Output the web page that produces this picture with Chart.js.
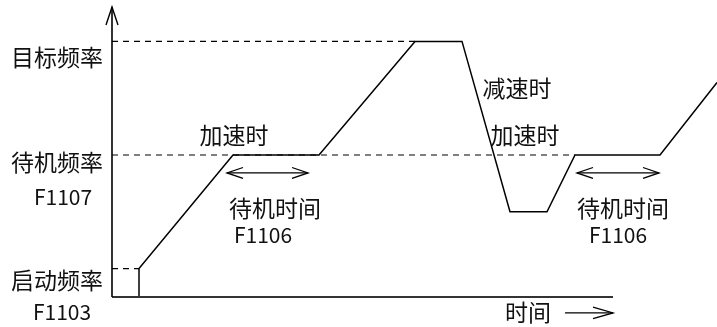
<!DOCTYPE html>
<html>
<head>
<meta charset="utf-8">
<script src="https://cdn.jsdelivr.net/npm/chart.js@4/dist/chart.umd.min.js"></script>
<style>
  html, body { margin: 0; padding: 0; background: #fff; }
  #c { display: block; }
</style>
</head>
<body>
<canvas id="c" width="717" height="327"></canvas>
<script>
// ---- data ----
const curveTimes = [2.7, 2.7, 12.1, 20.7, 30.3, 35.0, 39.8, 43.5, 46.3, 54.8, 60.5];
const curveFreqs = [0,   1,   5,    5,    9,    9,    3,    3,    5,    5,    7.55];
const levelNames  = ['目标频率', '待机频率', '启动频率'];
const levelCodes  = ['', 'F1107', 'F1103'];
const levelValues = [9, 5, 1];
const levelDashEnds = [30.3, 46.3, 2.7];
const standbyStarts = [11.5, 46.5];
const standbyEnds   = [19.6, 54.7];
const standbyName = '待机时间';
const standbyCode = 'F1106';
const phaseNames = ['加速时', '减速时', '加速时'];
const timeName = '时间';
const axisTimeEnd = 50.1;
const axisFreqEnd = 10.21;

// ---- layout (data-space anchors for annotations) ----
const X_MIN = -11.2, X_MAX = 60.5, Y_MIN = -30 / 28.4, Y_MAX = 297 / 28.4;
const standbyArrowY = 4.37;
const timeArrowY = -0.56;

const black = '#000';
const datasets = [];
function poly(points, opts) {
  datasets.push(Object.assign({
    data: points,
    showLine: true,
    borderColor: black,
    borderWidth: 1.4,
    pointRadius: 0,
    fill: false,
    tension: 0,
    clip: false
  }, opts || {}));
}

// guide dashed lines
levelValues.forEach((v, i) => {
  poly([{x: 0, y: v}, {x: levelDashEnds[i], y: v}], {borderDash: [6, 5], borderWidth: 1.2});
});
// axes
poly([{x: 0, y: 0}, {x: 0, y: axisFreqEnd}], {borderWidth: 1.6});
poly([{x: -0.6, y: axisFreqEnd - 0.63}, {x: 0, y: axisFreqEnd}, {x: 0.6, y: axisFreqEnd - 0.63}], {borderWidth: 1.4});
poly([{x: 0, y: 0}, {x: axisTimeEnd, y: 0}], {borderWidth: 2, borderColor: '#333'});
// frequency curve
poly(curveTimes.map((t, i) => ({x: t, y: curveFreqs[i]})), {borderWidth: 1.5, clip: true});
// standby double arrows
standbyStarts.forEach((s, i) => {
  const e = standbyEnds[i], y = standbyArrowY, hl = 1.6, hw = 0.19;
  poly([{x: s, y}, {x: e, y}], {borderWidth: 1.3});
  poly([{x: s + hl, y: y + hw}, {x: s, y}, {x: s + hl, y: y - hw}], {borderWidth: 1.3});
  poly([{x: e - hl, y: y + hw}, {x: e, y}, {x: e - hl, y: y - hw}], {borderWidth: 1.3});
});
// time arrow
poly([{x: 45.3, y: timeArrowY}, {x: axisTimeEnd, y: timeArrowY}], {borderWidth: 1.3});
poly([{x: axisTimeEnd - 2.0, y: timeArrowY + 0.2}, {x: axisTimeEnd, y: timeArrowY}, {x: axisTimeEnd - 2.0, y: timeArrowY - 0.2}], {borderWidth: 1.3});

// text annotations (data-space anchors); s = font size
const CJK = 23, LAT = 21;
const texts = [
  {t: levelNames[0], x: -0.9, y: 8.45, a: 'right', s: CJK},
  {t: levelNames[1], x: -0.9, y: 4.75, a: 'right', s: CJK},
  {t: levelCodes[1], x: -4.9, y: 3.52, a: 'center', s: LAT},
  {t: levelNames[2], x: -0.9, y: 0.6, a: 'right', s: CJK},
  {t: levelCodes[2], x: -5.0, y: -0.53, a: 'center', s: LAT},
  {t: phaseNames[0], x: 12.2, y: 5.70, a: 'center', s: CJK},
  {t: standbyName, x: 16.3, y: 3.13, a: 'center', s: CJK},
  {t: standbyCode, x: 15.1, y: 2.18, a: 'center', s: LAT},
  {t: phaseNames[1], x: 40.5, y: 7.36, a: 'center', s: CJK},
  {t: phaseNames[2], x: 41.3, y: 5.70, a: 'center', s: CJK},
  {t: standbyName, x: 51.1, y: 3.13, a: 'center', s: CJK},
  {t: standbyCode, x: 50.6, y: 2.18, a: 'center', s: LAT},
  {t: timeName, x: 41.6, y: -0.53, a: 'center', s: CJK}
];

const textPlugin = {
  id: 'texts',
  afterDatasetsDraw(chart) {
    const {ctx, scales} = chart;
    ctx.save();
    ctx.fillStyle = '#111';
    ctx.textBaseline = 'middle';
    texts.forEach(o => {
      ctx.font = o.s + 'px "Noto Sans CJK JP", "Noto Sans CJK SC", sans-serif';
      ctx.textAlign = o.a;
      ctx.fillText(o.t, scales.x.getPixelForValue(o.x), scales.y.getPixelForValue(o.y));
    });
    ctx.restore();
  }
};

new Chart(document.getElementById('c'), {
  type: 'scatter',
  data: {datasets},
  options: {
    responsive: false,
    animation: false,
    layout: {padding: 0},
    plugins: {legend: {display: false}, tooltip: {enabled: false}},
    scales: {
      x: {type: 'linear', display: false, min: X_MIN, max: X_MAX},
      y: {type: 'linear', display: false, min: Y_MIN, max: Y_MAX}
    }
  },
  plugins: [textPlugin]
});
</script>
</body>
</html>
